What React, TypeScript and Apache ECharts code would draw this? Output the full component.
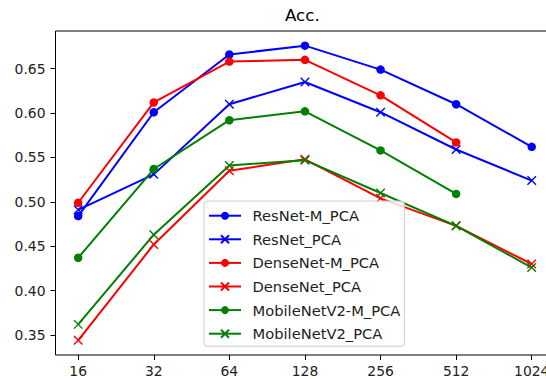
import React, { useEffect, useRef } from "react";
import * as echarts from "echarts";

const batchSizes = [16, 32, 64, 128, 256, 512, 1024];
const yTicks = [0.35, 0.4, 0.45, 0.5, 0.55, 0.6, 0.65];

const resnetM = [0.484, 0.601, 0.666, 0.676, 0.649, 0.61, 0.562];
const resnet = [0.491, 0.531, 0.61, 0.635, 0.601, 0.559, 0.524];
const densenetM = [0.499, 0.612, 0.658, 0.66, 0.62, 0.567];
const densenet = [0.344, 0.452, 0.535, 0.548, 0.504, 0.473, 0.43];
const mobileM = [0.437, 0.537, 0.592, 0.602, 0.558, 0.509];
const mobile = [0.362, 0.463, 0.541, 0.547, 0.51, 0.473, 0.426];

const FONT = "DejaVu Sans";
const CROSS = "path://M0,0L10,10M10,0L0,10";

function mk(name: string, vals: number[], color: string, cross: boolean) {
  return {
    name,
    type: "line",
    data: vals.map((v, i) => [batchSizes[i], v]),
    symbol: cross ? CROSS : "circle",
    symbolSize: 8.5,
    lineStyle: { color, width: 2 },
    itemStyle: cross
      ? { color: "none", borderColor: color, borderWidth: 1.4 }
      : { color, borderColor: color, borderWidth: 0 },
    emphasis: { disabled: true },
  };
}

export default function App() {
  const ref = useRef<HTMLDivElement>(null);
  useEffect(() => {
    const chart = echarts.init(ref.current!, undefined, { renderer: "svg" });
    chart.setOption({
      animation: false,
      textStyle: { fontFamily: FONT },
      title: {
        text: "Acc.",
        left: 285,
        top: 6,
        padding: 0,
        textStyle: { fontFamily: FONT, fontSize: 16.7, fontWeight: "normal", color: "#000" },
      },
      grid: {
        left: 55.5,
        right: 1.6,
        top: 31,
        bottom: 24,
        show: true,
        borderColor: "#000",
        borderWidth: 1,
        backgroundColor: "transparent",
      },
      xAxis: {
        type: "log",
        logBase: 2,
        min: 16 * Math.pow(2, -0.3),
        max: 1024 * Math.pow(2, 0.3),
        axisLine: { show: false },
        splitLine: { show: false },
        minorTick: { show: false },
        axisTick: { show: true, length: 5, lineStyle: { color: "#000", width: 1 }, customValues: batchSizes },
        axisLabel: {
          customValues: batchSizes,
          margin: 9,
          fontFamily: FONT,
          fontSize: 13.9,
          color: "#222",
          formatter: (v: number) => String(Math.round(v)),
        },
      },
      yAxis: {
        type: "value",
        min: 0.3275,
        max: 0.6925,
        axisLine: { show: false },
        splitLine: { show: false },
        axisTick: { show: true, length: 5, lineStyle: { color: "#000", width: 1 }, customValues: yTicks },
        axisLabel: {
          customValues: yTicks,
          margin: 10,
          fontFamily: FONT,
          fontSize: 13.9,
          color: "#222",
          formatter: (v: number) => v.toFixed(2),
        },
      },
      legend: {
        orient: "vertical",
        left: 204,
        top: 201,
        itemWidth: 32,
        itemHeight: 10,
        itemGap: 8.6,
        padding: [7.2, 4, 5, 4],
        backgroundColor: "rgba(255,255,255,0.8)",
        borderColor: "#cccccc",
        borderWidth: 1,
        borderRadius: 3,
        textStyle: { fontFamily: FONT, fontSize: 14.7, color: "#222", padding: [0, 0, 0, 6.5] },
        data: [
          "ResNet-M_PCA",
          "ResNet_PCA",
          "DenseNet-M_PCA",
          "DenseNet_PCA",
          "MobileNetV2-M_PCA",
          "MobileNetV2_PCA",
        ],
      },
      series: [
        mk("ResNet-M_PCA", resnetM, "#0000ff", false),
        mk("ResNet_PCA", resnet, "#0000ff", true),
        mk("DenseNet-M_PCA", densenetM, "#ff0000", false),
        mk("DenseNet_PCA", densenet, "#ff0000", true),
        mk("MobileNetV2-M_PCA", mobileM, "#008000", false),
        mk("MobileNetV2_PCA", mobile, "#008000", true),
      ],
    });
    return () => chart.dispose();
  }, []);
  return (
    <div style={{ position: "fixed", left: 0, top: 0, width: 546, height: 379, overflow: "hidden", background: "#fff" }}>
      <div ref={ref} style={{ width: 556, height: 379 }} />
    </div>
  );
}
